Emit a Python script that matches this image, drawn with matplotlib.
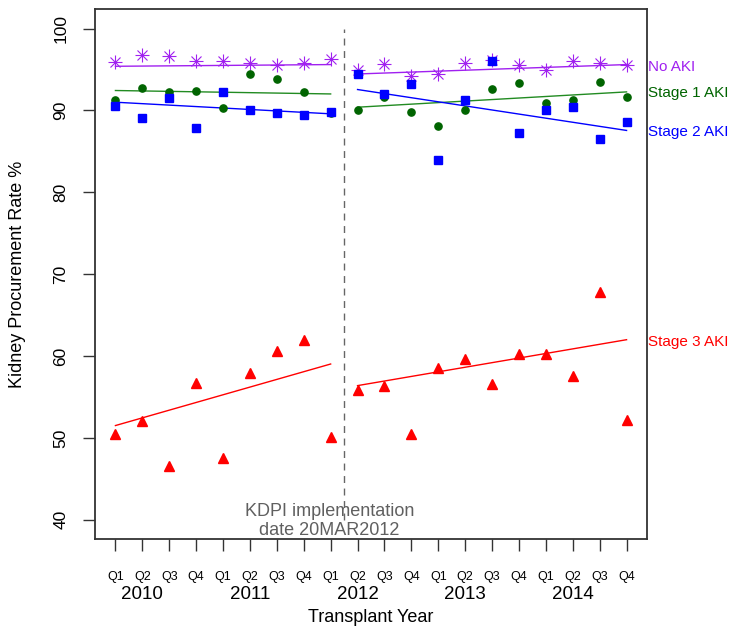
import matplotlib
matplotlib.use("Agg")
import matplotlib.pyplot as plt
import matplotlib.transforms as mtransforms

plt.rcParams['font.family'] = ['Liberation Sans', 'DejaVu Sans']

# quarters 2010 Q1 .. 2014 Q4
quarter_labels = ['Q1', 'Q2', 'Q3', 'Q4'] * 5
years = ['2010', '2011', '2012', '2013', '2014']
year_pos = [2, 6, 10, 14, 18]

no_aki = [95.9, 96.8, 96.6, 96.1, 96.0, 95.8, 95.6, 95.8, 96.3,
          95.0, 95.7, 94.2, 94.5, 95.8, 96.2, 95.5, 95.0, 96.0, 95.8, 95.6]
stage1 = [91.3, 92.8, 92.2, 92.4, 90.3, 94.5, 93.9, 92.2, 89.7,
          90.1, 91.6, 89.8, 88.1, 90.1, 92.6, 93.3, 90.9, 91.3, 93.5, 91.6]
stage2 = [90.5, 89.1, 91.5, 87.9, 92.2, 90.0, 89.7, 89.4, 89.8,
          94.4, 92.0, 93.2, 84.0, 91.3, 96.0, 87.3, 90.1, 90.4, 86.5, 88.6]
stage3 = [50.5, 52.1, 46.5, 56.7, 47.5, 57.9, 60.6, 62.0, 50.1,
          55.9, 56.3, 50.5, 58.5, 59.6, 56.6, 60.2, 60.3, 57.5, 67.8, 52.2]

# fitted trend lines, before / after KDPI
pre_x = [1, 9]
post_x = [10, 20]
no_aki_fit = ([95.40, 95.61], [94.46, 95.61])
stage1_fit = ([92.44, 92.02], [90.40, 92.27])
stage2_fit = ([91.01, 89.59], [92.56, 87.56])
stage3_fit = ([51.50, 59.02], [56.38, 61.99])

series_names = ['No AKI', 'Stage 1 AKI', 'Stage 2 AKI', 'Stage 3 AKI']
label_y = [95.3, 92.1, 87.4, 61.7]

purple = '#A020F0'
green_pt = '#006400'
green_ln = '#228B22'

fig = plt.figure(figsize=(7.34, 6.31), dpi=100)
ax = fig.add_axes([95 / 734, 1 - 539.3 / 631, 552 / 734, 530.3 / 631])

x = list(range(1, 21))

# trend lines
for fits, col in [(no_aki_fit, purple), (stage1_fit, green_ln),
                  (stage2_fit, 'blue'), (stage3_fit, 'red')]:
    ax.plot(pre_x, fits[0], color=col, lw=1.0, zorder=2)
    ax.plot(post_x, fits[1], color=col, lw=1.0, zorder=2)

# points
ax.plot(x, no_aki, ls='none', marker='+', ms=9.5, mew=0.8, color=purple, zorder=3)
ax.plot(x, no_aki, ls='none', marker='x', ms=6.7, mew=0.8, color=purple, zorder=3)
ax.plot(x, stage1, ls='none', marker='o', ms=5.2, color=green_pt, zorder=3)
ax.plot(x, stage2, ls='none', marker='s', ms=6.0, color='blue', zorder=3)
ax.plot(x, stage3, ls='none', marker='^', ms=7.0, color='red', zorder=3)

# KDPI date line
ax.vlines(9.5, 40, 100, colors='#666666', linestyles=(0, (5, 4)), lw=1.0)
ax.text(8.95, 39.8, 'KDPI implementation\ndate 20MAR2012', ha='center', va='center',
        fontsize=13, color='#606060', linespacing=1.15)

ax.set_xlim(0.24, 20.76)
ax.set_ylim(37.6, 102.4)
ax.set_xticks(x, labels=quarter_labels)
ax.set_yticks([40, 50, 60, 70, 80, 90, 100])
ax.tick_params(axis='x', length=8.5, width=1.0, color='#333333', pad=14, labelsize=9)
ax.tick_params(axis='y', length=9, width=1.0, color='#333333', pad=10, labelsize=12.5,
               labelrotation=90)
for lab in ax.get_yticklabels():
    lab.set_va('center')
for sp in ax.spines.values():
    sp.set_color('#333333')
    sp.set_linewidth(1.3)

trans = mtransforms.blended_transform_factory(ax.transData, ax.transAxes)
for yr, xp in zip(years, year_pos):
    ax.text(xp, -0.105, yr, transform=trans, ha='center', va='center', fontsize=13.5)
ax.text(0.5, -0.148, 'Transplant Year', transform=ax.transAxes, ha='center',
        va='center', fontsize=13)
ax.text(-0.141, 0.5, 'Kidney Procurement Rate %', transform=ax.transAxes, ha='center',
        va='center', rotation=90, fontsize=13)

# series names at right edge
trans_r = mtransforms.blended_transform_factory(ax.transAxes, ax.transData)
for name, yv, col in zip(series_names, label_y, [purple, green_pt, 'blue', 'red']):
    ax.text(1.002, yv, name, transform=trans_r, ha='left', va='center',
            fontsize=11, color=col, clip_on=False)

fig.savefig('out.png', dpi=100)
